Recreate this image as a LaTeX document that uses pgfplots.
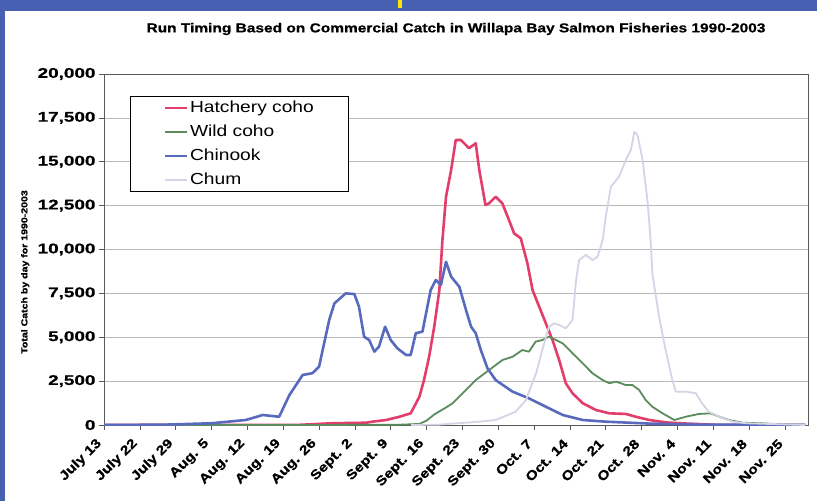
\documentclass[border=0pt]{standalone}
\usepackage{pgfplots}
\pgfplotsset{compat=1.18}
\usepackage{fontspec}
\setmainfont{Liberation Sans}
\newfontfamily\wideA{Liberation Sans}[FakeStretch=1.2]
\newfontfamily\heavyA{Liberation Sans Bold}[FakeStretch=1.2, FakeBold=0.8]
\newfontfamily\heavyB{Liberation Sans Bold}[FakeStretch=1.35, FakeBold=0.8]

\definecolor{hatch}{RGB}{226,61,107}
\definecolor{wild}{RGB}{90,140,92}
\definecolor{chin}{RGB}{88,106,190}
\definecolor{chum}{RGB}{214,212,228}
\definecolor{framblue}{RGB}{72,96,178}

\begin{document}
\begin{tikzpicture}
\path[use as bounding box] (0,0) rectangle (817pt,501pt);
\fill[white] (0,0) rectangle (817pt,501pt);
\fill[framblue] (0,490pt) rectangle (817pt,501pt);
\fill[framblue] (0,0) rectangle (5pt,501pt);
\fill[yellow!90!orange] (398pt,493pt) rectangle (402pt,501pt);

\begin{axis}[
    at={(104pt,76pt)}, anchor=south west,
    scale only axis,
    width=704pt, height=351pt,
    xmin=0, xmax=137.5,
    ymin=0, ymax=20000,
    xtick={0,7,...,133},
    xticklabels={July 13,July 22,July 29,Aug. 5,Aug. 12,Aug. 19,Aug. 26,Sept. 2,Sept. 9,Sept. 16,Sept. 23,Sept. 30,Oct. 7,Oct. 14,Oct. 21,Oct. 28,Nov. 4,Nov. 11,Nov. 18,Nov. 25},
    ytick={0,2500,...,20000},
    scaled y ticks=false,
    /pgf/number format/1000 sep={,},
    /pgf/number format/assume math mode=true,
    xtick pos=left, ytick pos=left,
    tick align=outside,
    major tick length=5pt,
    ymajorgrids=true,
    grid style={gray!55, line width=0.6pt},
    axis line style={gray!70!black, line width=0.6pt},
    tick style={gray!70!black, line width=0.6pt},
    yticklabel style={font=\heavyB\fontsize{14}{14}\selectfont},
    xticklabel style={font=\heavyA\fontsize{13}{13}\selectfont, xshift=-2pt, yshift=-9pt, rotate=45, anchor=east},
    title={Run Timing Based on Commercial Catch in Willapa Bay Salmon Fisheries 1990-2003},
    title style={font=\heavyA\fontsize{12.9}{13}\selectfont, at={(axis description cs:0.5,1.111)}, anchor=center},
    ylabel={Total Catch by day for 1990-2003},
    ylabel style={font=\heavyA\fontsize{8.8}{9}\selectfont, at={(axis description cs:-0.112,0.436)}, anchor=center},
    legend cell align=left,
    legend image code/.code={\draw[#1] (0pt,0pt) -- (22pt,0pt);},
    legend style={at={(axis description cs:0.037,0.937)}, anchor=north west,
        draw=black, line width=0.8pt, inner xsep=33pt, inner ysep=3pt,
        row sep=7pt,
        nodes={inner ysep=0pt, text height=13pt, text depth=4pt},
        font=\wideA\fontsize{16}{16}\selectfont},
]

\addplot[hatch, line width=2.6pt, line join=round] coordinates {
(0,0) (37.5,0) (44.6,100) (51.2,130) (52.4,190) (55.1,285) (57.7,470) (59.9,665)
(61.6,1610) (62.5,2560) (63.5,3890) (64.5,5600) (65.5,7690) (66.1,10540) (66.8,13010)
(67.8,14530) (68.7,16240) (69.7,16240) (71.3,15770) (72.6,16050) (73.3,14530)
(74.5,12540) (75.2,12630) (76.5,13010) (77.8,12630) (79.1,11680) (80.1,10920)
(81.4,10640) (82.7,9210) (83.7,7690) (85,6740) (86.3,5790) (87.6,4840) (88.9,3700)
(90.2,2380) (91.5,1810) (93.5,1240) (96.1,855) (98.7,665) (101.9,630) (103.9,470)
(106.5,285) (109.7,150) (112.4,100) (120.2,0) (137,0)
};
\addlegendentry{Hatchery coho}

\addplot[wild, line width=1.8pt, line join=round] coordinates {
(0,0) (40,0) (58,20) (61.6,60) (63,250) (64.5,600) (66.8,1000) (68.1,1240)
(70.7,2000) (72.6,2560) (75.2,3130) (77.8,3700) (79.8,3890) (81.7,4270) (83,4180)
(84.3,4750) (85.6,4840) (86.9,5030) (88.3,4840) (89.6,4650) (91.5,4090) (93.5,3510)
(95.4,2950) (97.4,2560) (98.7,2380) (100,2470) (101.9,2280) (103.2,2280) (104.5,2000)
(105.8,1420) (107.1,1040) (109.1,665) (111.4,285) (113.6,470) (116.2,630) (118.5,665)
(120.2,470) (122.1,285) (124.7,130) (128,100) (135.8,0)
};
\addlegendentry{Wild coho}

\addplot[chin, line width=2.6pt, line join=round] coordinates {
(0,0) (12,20) (21,100) (27.7,285) (31,570) (34.2,470) (36.2,1700) (38.8,2850)
(40.7,2950) (42,3320) (44,6000) (45,6930) (47.2,7500) (48.9,7460) (49.8,6740)
(50.8,5030) (51.8,4840) (52.8,4180) (53.7,4460) (54.9,5600) (56,4840) (57.3,4370)
(59,3990) (59.9,3990) (60.9,5230) (62.2,5320) (63.8,7690) (64.8,8260) (65.8,7980)
(66.8,9300) (67.8,8450) (69.4,7880) (70.7,6550) (71.7,5600) (72.6,5230) (73.6,4270)
(74.9,3230) (76.5,2560) (79.8,1900) (83,1520) (86.3,1040) (89.6,570) (93.5,285)
(98,190) (106.5,80) (116,20) (137,0)
};
\addlegendentry{Chinook}

\addplot[chum, line width=1.8pt, line join=round] coordinates {
(60,0) (65.4,20) (73.3,190) (76.5,285) (80.4,760) (82.4,1420) (84.4,2950) (85.6,4270)
(86.9,5600) (87.9,5790) (88.9,5700) (90.2,5510) (91.5,5980) (92.2,8260) (92.8,9400)
(94.1,9690) (95.4,9400) (96.4,9590) (97.4,10540) (98,11870) (99,13580) (100.6,14150)
(101.9,15100) (102.9,15670) (103.6,16710) (104.2,16520) (105.2,15100) (106.2,12630)
(106.8,10350) (107.1,8640) (108.4,6170) (109.7,4270) (111,2560) (111.7,1900)
(113.6,1900) (115.6,1810) (116.8,1240) (118.1,760) (120.2,470) (122.8,190) (125.4,100)
(137,0)
};
\addlegendentry{Chum}

\end{axis}
\end{tikzpicture}
\end{document}
